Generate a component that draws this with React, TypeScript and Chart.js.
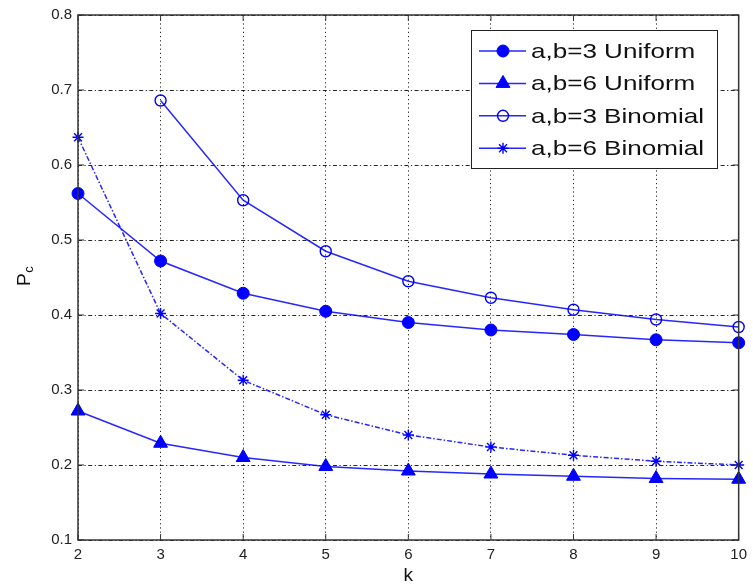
import React, { useEffect, useRef } from 'react';
import { Chart, registerables } from 'chart.js';

Chart.register(...registerables);

const kValues = [2, 3, 4, 5, 6, 7, 8, 9, 10];
const uniform3 = [0.562, 0.472, 0.429, 0.405, 0.390, 0.380, 0.374, 0.367, 0.363];
const uniform6 = [0.272, 0.229, 0.210, 0.198, 0.192, 0.188, 0.185, 0.182, 0.181];
const binomial3 = [null, 0.686, 0.553, 0.485, 0.445, 0.423, 0.407, 0.394, 0.384];
const binomial6 = [0.637, 0.402, 0.313, 0.267, 0.240, 0.224, 0.213, 0.205, 0.200];
const seriesLabels = ['a,b=3 Uniform', 'a,b=6 Uniform', 'a,b=3 Binomial', 'a,b=6 Binomial'];
const xTitle = 'k';
const yTitleMain = 'P';
const yTitleSub = 'c';

const BLUE = '#0000ff';
const LINE = 'rgba(0,0,255,0.85)';

function toPoints(vals: (number | null)[]) {
  const out: { x: number; y: number }[] = [];
  vals.forEach((v, i) => {
    if (v !== null) out.push({ x: kValues[i], y: v });
  });
  return out;
}

type MarkerSpec = { style: string; radius: number; fill: boolean; dash: number[] };
const markers: MarkerSpec[] = [
  { style: 'circle', radius: 6, fill: true, dash: [] },
  { style: 'triangle', radius: 8, fill: true, dash: [] },
  { style: 'circle', radius: 5.5, fill: false, dash: [] },
  { style: 'star', radius: 5.5, fill: false, dash: [5, 2, 1.5, 2] },
];

function drawMarker(ctx: CanvasRenderingContext2D, m: MarkerSpec, x: number, y: number) {
  ctx.save();
  ctx.strokeStyle = BLUE;
  ctx.fillStyle = BLUE;
  ctx.lineWidth = m.fill ? 1 : 1.4;
  ctx.setLineDash([]);
  ctx.beginPath();
  if (m.style === 'circle') {
    ctx.arc(x, y, m.radius, 0, Math.PI * 2);
    if (m.fill) ctx.fill();
    ctx.stroke();
  } else if (m.style === 'triangle') {
    const r = m.radius;
    let a = 0;
    ctx.moveTo(x + Math.sin(a) * r, y - Math.cos(a) * r);
    a += (2 * Math.PI) / 3;
    ctx.lineTo(x + Math.sin(a) * r, y - Math.cos(a) * r);
    a += (2 * Math.PI) / 3;
    ctx.lineTo(x + Math.sin(a) * r, y - Math.cos(a) * r);
    ctx.closePath();
    ctx.fill();
    ctx.stroke();
  } else if (m.style === 'star') {
    const r = m.radius;
    ctx.moveTo(x - r, y);
    ctx.lineTo(x + r, y);
    ctx.moveTo(x, y - r);
    ctx.lineTo(x, y + r);
    const d = r * 0.72;
    ctx.moveTo(x - d, y - d);
    ctx.lineTo(x + d, y + d);
    ctx.moveTo(x - d, y + d);
    ctx.lineTo(x + d, y - d);
    ctx.stroke();
  }
  ctx.restore();
}

const framePlugin = {
  id: 'matlabFrame',
  afterDraw(chart: any) {
    const ctx: CanvasRenderingContext2D = chart.ctx;
    const { left, right, top, bottom } = chart.chartArea;
    const xs = chart.scales.x;
    const ys = chart.scales.y;
    ctx.save();
    ctx.strokeStyle = '#333';
    ctx.lineWidth = 1.5;
    ctx.setLineDash([]);
    ctx.strokeRect(left, top, right - left, bottom - top);
    // inner ticks
    ctx.lineWidth = 1;
    ctx.beginPath();
    xs.ticks.forEach((t: any) => {
      const px = xs.getPixelForValue(t.value);
      ctx.moveTo(px, bottom);
      ctx.lineTo(px, bottom - 6);
      ctx.moveTo(px, top);
      ctx.lineTo(px, top + 6);
    });
    ys.ticks.forEach((t: any) => {
      const py = ys.getPixelForValue(t.value);
      ctx.moveTo(left, py);
      ctx.lineTo(left + 6, py);
      ctx.moveTo(right, py);
      ctx.lineTo(right - 6, py);
    });
    ctx.stroke();

    // axis titles
    ctx.fillStyle = '#111';
    ctx.textBaseline = 'alphabetic';
    ctx.font = '19px "Liberation Sans", Arial, sans-serif';
    ctx.textAlign = 'center';
    ctx.fillText(xTitle, (left + right) / 2, 581);

    ctx.save();
    ctx.translate(30, 286);
    ctx.rotate(-Math.PI / 2);
    ctx.textAlign = 'left';
    ctx.font = '19px "Liberation Sans", Arial, sans-serif';
    ctx.fillText(yTitleMain, 0, 0);
    const pw = ctx.measureText(yTitleMain).width;
    ctx.font = '13px "Liberation Sans", Arial, sans-serif';
    ctx.fillText(yTitleSub, pw + 0.5, 3);
    ctx.restore();

    // legend
    const boxL = 471, boxT = 30, boxW = 246, boxH = 138;
    ctx.fillStyle = '#fff';
    ctx.fillRect(boxL, boxT, boxW, boxH);
    ctx.strokeStyle = '#222';
    ctx.lineWidth = 1;
    ctx.strokeRect(boxL + 0.5, boxT + 0.5, boxW, boxH);
    const rowY0 = 51, rowH = 32.4;
    chart.data.datasets.forEach((ds: any, i: number) => {
      const y = rowY0 + i * rowH;
      ctx.save();
      ctx.strokeStyle = LINE;
      ctx.lineWidth = 1.5;
      ctx.setLineDash([]);
      ctx.beginPath();
      ctx.moveTo(479, y);
      ctx.lineTo(526, y);
      ctx.stroke();
      ctx.restore();
      drawMarker(ctx, markers[i], 503, y);
      ctx.save();
      ctx.fillStyle = '#111';
      ctx.font = '21px "Liberation Sans", Arial, sans-serif';
      ctx.textAlign = 'left';
      ctx.textBaseline = 'middle';
      ctx.translate(531, y + 1);
      ctx.scale(1.24, 1);
      ctx.fillText(ds.label, 0, 0);
      ctx.restore();
    });
    ctx.restore();
  },
};

export default function App() {
  const ref = useRef<HTMLCanvasElement | null>(null);
  useEffect(() => {
    if (!ref.current) return;
    const series = [uniform3, uniform6, binomial3, binomial6];
    const chart = new Chart(ref.current, {
      type: 'line',
      data: {
        datasets: series.map((vals, i) => ({
          label: seriesLabels[i],
          data: toPoints(vals),
          borderColor: LINE,
          backgroundColor: markers[i].fill ? BLUE : 'rgba(0,0,0,0)',
          borderWidth: 1.5,
          borderDash: markers[i].dash,
          pointStyle: markers[i].style as any,
          pointRadius: markers[i].radius,
          pointBorderColor: BLUE,
          pointBackgroundColor: markers[i].fill ? BLUE : 'rgba(0,0,0,0)',
          pointBorderWidth: markers[i].fill ? 1 : 1.4,
          tension: 0,
          fill: false,
          clip: false as any,
        })),
      },
      options: {
        animation: false,
        responsive: false,
        maintainAspectRatio: false,
        layout: { padding: { left: 0, top: 13, right: 11, bottom: 0 } },
        plugins: { legend: { display: false }, tooltip: { enabled: false } },
        scales: {
          x: {
            type: 'linear',
            min: 2,
            max: 10,
            afterFit: (s: any) => { s.height = 45; },
            ticks: {
              stepSize: 1,
              padding: 6,
              color: '#222',
              font: { family: '"Liberation Sans", Arial, sans-serif', size: 15 },
              callback: (v: any) => String(v),
            },
            grid: { color: 'rgba(0,0,0,0.85)', lineWidth: 1, drawTicks: false },
            border: { display: false, dash: [1.2, 3] },
          },
          y: {
            type: 'linear',
            min: 0.1,
            max: 0.8,
            afterFit: (s: any) => { s.width = 78; },
            ticks: {
              stepSize: 0.1,
              padding: 6,
              color: '#222',
              font: { family: '"Liberation Sans", Arial, sans-serif', size: 15 },
              callback: (v: any) => Number(v).toFixed(1),
            },
            grid: { color: 'rgba(0,0,0,0.85)', lineWidth: 1, drawTicks: false },
            border: { display: false, dash: [4, 2.5, 1.2, 2.5] },
          },
        },
      },
      plugins: [framePlugin],
    });
    return () => chart.destroy();
  }, []);
  return (
    <div style={{ position: 'fixed', left: 0, top: 0, width: 753, height: 585, background: '#fff' }}>
      <canvas ref={ref} width={753} height={585} style={{ width: 753, height: 585 }} />
    </div>
  );
}
